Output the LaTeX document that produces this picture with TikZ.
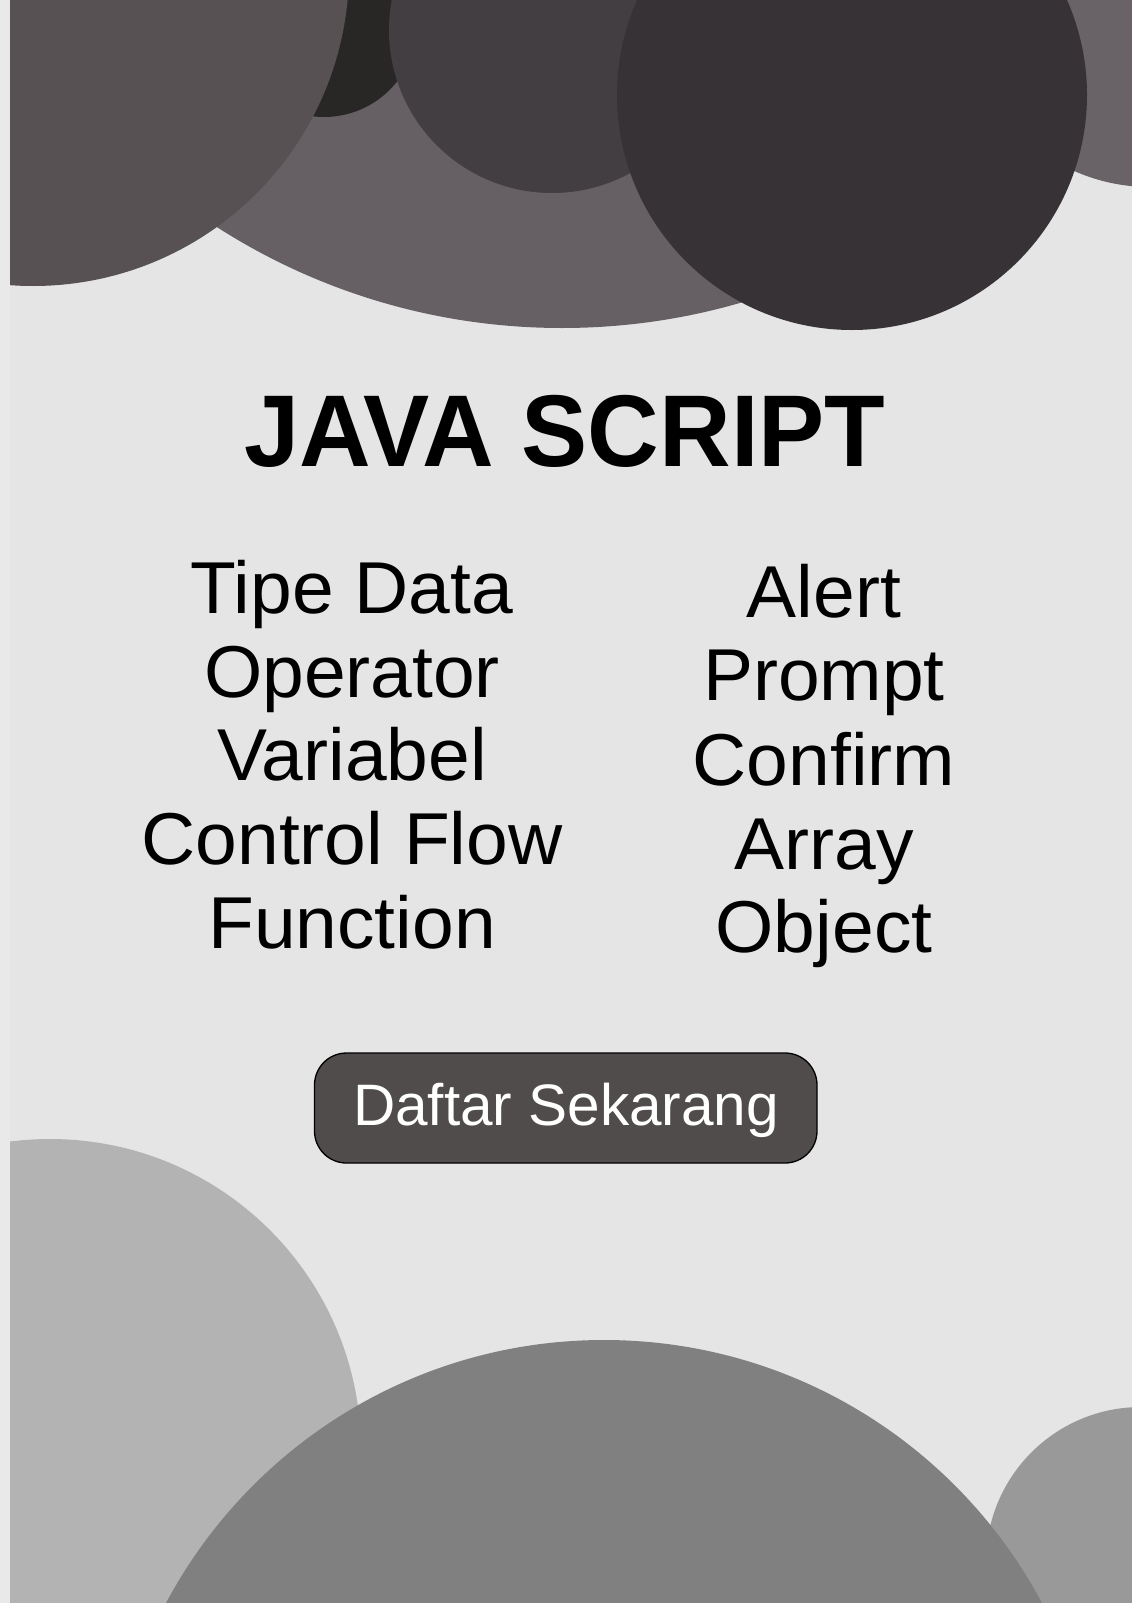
\documentclass[tikz,border=0pt]{standalone}
\usepackage{fontspec}
\setmainfont{Liberation Sans}
\definecolor{bgpage}{HTML}{E5E5E5}
\definecolor{bgstrip}{HTML}{E9E9E9}
\definecolor{cA}{HTML}{575153}
\definecolor{cB}{HTML}{282725}
\definecolor{cC}{HTML}{433E42}
\definecolor{cD}{HTML}{373236}
\definecolor{cE}{HTML}{666064}
\definecolor{cF}{HTML}{696367}
\definecolor{cG}{HTML}{B3B3B3}
\definecolor{cH}{HTML}{808080}
\definecolor{cI}{HTML}{999999}
\definecolor{btnfill}{HTML}{504C4B}
\newcommand{\narrowtitle}[1]{\scalebox{0.972}[1]{#1}}
\newcommand{\wideitem}[1]{\scalebox{1.02}[1]{#1}}
\tikzset{
  titletext/.style={inner sep=0pt, anchor=base, font=\fontsize{102}{110}\selectfont\bfseries, text=black},
  itemtext/.style={inner sep=0pt, anchor=base, font=\fontsize{73.5}{80}\selectfont, text=black},
  btnbox/.style={draw=black, line width=1.3pt, fill=btnfill, rounded corners=32pt},
  btntext/.style={inner sep=0pt, anchor=base, font=\fontsize{58.5}{64}\selectfont, text=white}
}
\begin{document}
\begin{tikzpicture}[x=1pt,y=-1pt]
\useasboundingbox (0,0) rectangle (1132,1603);
\fill[bgstrip] (0,0) rectangle (1132,1603);
\fill[bgpage] (10,0) rectangle (1132,1603);
\begin{scope}
  \clip (10,0) rectangle (1132,1603);
  % top circles
  \fill[cE] (562,-312) circle[radius=640pt];
  \fill[cF] (1150,0) circle[radius=187pt];
  \fill[cB] (324,24) circle[radius=93pt];
  \fill[cA] (33,-30) circle[radius=316pt];
  \fill[cC] (552,30) circle[radius=163pt];
  \fill[cD] (852,95) circle[radius=235pt];
  % bottom circles
  \fill[cG] (50,1450) circle[radius=311pt];
  \fill[cI] (1141,1562) circle[radius=155pt];
  \fill[cH] (604,1836) circle[radius=496pt];
\end{scope}
% title
\node[titletext] (title) at (565,466) {\narrowtitle{JAVA SCRIPT}};
% left column
\node[itemtext] (l1) at (352,613) {\wideitem{Tipe Data}};
\node[itemtext] (l2) at (352,697) {\wideitem{Operator}};
\node[itemtext] (l3) at (352,780) {\wideitem{Variabel}};
\node[itemtext] (l4) at (352,864) {\wideitem{Control Flow}};
\node[itemtext] (l5) at (352,948) {\wideitem{Function}};
% right column
\node[itemtext] (r1) at (824,617) {\wideitem{Alert}};
\node[itemtext] (r2) at (824,700) {\wideitem{Prompt}};
\node[itemtext] (r3) at (824,785) {\wideitem{Confirm}};
\node[itemtext] (r4) at (824,869) {\wideitem{Array}};
\node[itemtext] (r5) at (824,952) {\wideitem{Object}};
% button
\draw[btnbox] (314.5,1053) rectangle (817,1163);
\node[btntext] (btn) at (566,1125) {Daftar Sekarang};
\end{tikzpicture}
\end{document}
